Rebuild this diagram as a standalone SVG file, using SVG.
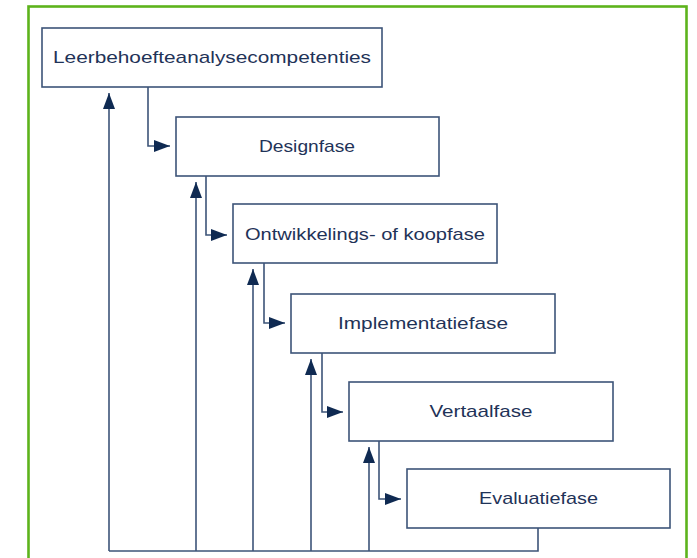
<svg xmlns="http://www.w3.org/2000/svg" width="697" height="558" viewBox="0 0 697 558">
<defs>
<marker id="ah" viewBox="0 0 16 12" refX="16" refY="6" markerWidth="16" markerHeight="12" markerUnits="userSpaceOnUse" orient="auto">
<path d="M0,0 L16,6 L0,12 Z" fill="#0f2a52"/>
</marker>
<style>
.box{fill:#ffffff;stroke:#3d5478;stroke-width:1.6}
.lbl{font-family:"Liberation Sans","Open Sans",sans-serif;font-size:17px;fill:#1f3358;text-anchor:middle}
.c{fill:none;stroke:#3d5478;stroke-width:1.6}
.ca{fill:none;stroke:#3d5478;stroke-width:1.6;marker-end:url(#ah)}
</style>
</defs>
<rect x="28.5" y="6.5" width="658" height="560" fill="none" stroke="#5db31c" stroke-width="2.6"/>
<g id="connectors">
<path class="ca" d="M148,87 V146 H170"/>
<path class="ca" d="M206,176 V235 H227"/>
<path class="ca" d="M264,263 V323 H285"/>
<path class="ca" d="M322,353 V412 H343"/>
<path class="ca" d="M379,441 V499 H401"/>
<path class="c" d="M538,528 V551 H109"/>
<path class="ca" d="M109,551 V93"/>
<path class="ca" d="M196,551 V182"/>
<path class="ca" d="M253,551 V269"/>
<path class="ca" d="M311,551 V359"/>
<path class="ca" d="M369,551 V447"/>
</g>
<g id="n1"><rect class="box" x="42" y="28" width="340" height="59"/><text class="lbl" x="212" y="63" textLength="318" lengthAdjust="spacingAndGlyphs">Leerbehoefteanalysecompetenties</text></g>
<g id="n2"><rect class="box" x="176" y="117" width="263" height="59"/><text class="lbl" x="307" y="152" textLength="96" lengthAdjust="spacingAndGlyphs">Designfase</text></g>
<g id="n3"><rect class="box" x="233" y="204" width="264" height="59"/><text class="lbl" x="365" y="240" textLength="240" lengthAdjust="spacingAndGlyphs">Ontwikkelings- of koopfase</text></g>
<g id="n4"><rect class="box" x="291" y="294" width="264" height="59"/><text class="lbl" x="423" y="329" textLength="170" lengthAdjust="spacingAndGlyphs">Implementatiefase</text></g>
<g id="n5"><rect class="box" x="349" y="382" width="264" height="59"/><text class="lbl" x="481" y="417" textLength="103" lengthAdjust="spacingAndGlyphs">Vertaalfase</text></g>
<g id="n6"><rect class="box" x="407" y="469" width="263" height="59"/><text class="lbl" x="538.5" y="504" textLength="119" lengthAdjust="spacingAndGlyphs">Evaluatiefase</text></g>
</svg>
